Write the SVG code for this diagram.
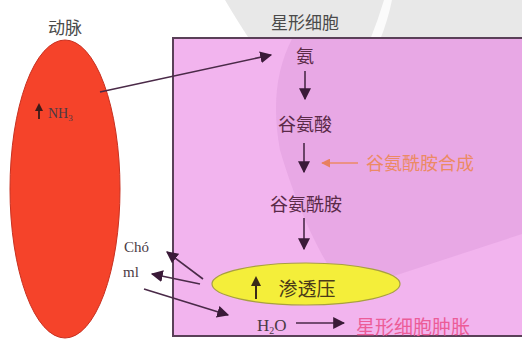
<svg xmlns="http://www.w3.org/2000/svg" width="522" height="340" viewBox="0 0 522 340">
<style>
.lbl{font-family:"Noto Sans CJK SC",sans-serif;font-size:17px;fill:#4a4a4a;text-anchor:middle}
.chain{font-family:"Noto Sans CJK SC",sans-serif;font-size:18px;fill:#5a2a48;text-anchor:middle}
.ser{font-family:"Liberation Serif",serif;fill:#4a3a44}
.ln{stroke:#4a2a48;stroke-width:1.6;fill:none}
</style>
<defs>
<marker id="ahB" viewBox="0 0 10 10" refX="9" refY="5" markerWidth="12" markerHeight="12" orient="auto" markerUnits="userSpaceOnUse">
<path d="M0,0 L10,5 L0,10 z" fill="#3a1a38"/>
</marker>
<marker id="ahO" viewBox="0 0 10 10" refX="9" refY="5" markerWidth="9" markerHeight="9" orient="auto" markerUnits="userSpaceOnUse">
<path d="M0,0 L10,5 L0,10 z" fill="#e88060"/>
</marker>
</defs>
<rect width="522" height="340" fill="#ffffff"/>
<path d="M225,0 Q238,22 250,40 L522,40 L522,0 Z" fill="#e8e8e8"/>
<path d="M384,0 Q378,20 370,40 L380,40 Q388,20 392,0 Z" fill="#ffffff" opacity="0.8"/>
<g id="cell">
<rect x="173" y="38" width="360" height="298" fill="#f2b4ee" stroke="#5a4058" stroke-width="2"/>
<path d="M292,39 L522,39 L522,234 L345,292 Q305,235 280,150 Q268,85 292,39 Z" fill="#dc98da" opacity="0.45"/>
<text class="lbl" x="305" y="29">星形细胞</text>
</g>
<g id="artery">
<ellipse cx="65" cy="189" rx="55" ry="149" fill="#f5432a" stroke="#c83020" stroke-width="1"/>
<text class="lbl" x="65" y="34">动脉</text>
<path d="M39,119 L39,109" stroke="#3a1a18" stroke-width="1.8"/>
<path d="M35,111 L39,103 L43,111 Z" fill="#3a1a18"/>
<text class="ser" x="48" y="118" font-size="14" fill="#3a1a18">NH<tspan font-size="9" dy="3">3</tspan></text>
</g>
<g id="n-ammonia"><text class="chain" x="305" y="63" font-size="17">氨</text></g>
<g id="n-glu"><text class="chain" x="305" y="131">谷氨酸</text></g>
<g id="n-gln"><text class="chain" x="306" y="211">谷氨酰胺</text></g>
<g id="n-synth"><text x="366" y="170" font-family="Noto Sans CJK SC,sans-serif" font-size="18" fill="#ec8a64">谷氨酰胺合成</text></g>
<g id="n-osm">
<ellipse cx="306" cy="284" rx="94" ry="21" fill="#f4ee3a" stroke="#a8a040" stroke-width="1.2"/>
<path d="M256,299 L256,284" stroke="#3a2a18" stroke-width="2"/>
<path d="M251,286 L256,276 L261,286 Z" fill="#3a2a18"/>
<text x="307" y="296" font-family="Noto Sans CJK SC,sans-serif" font-size="19" fill="#4a3a18" text-anchor="middle">渗透压</text>
</g>
<g id="n-h2o"><text class="ser" x="257" y="331" font-size="17">H<tspan font-size="10" dy="3">2</tspan><tspan dy="-3">O</tspan></text></g>
<g id="n-swell"><text x="356" y="334" font-family="Noto Sans CJK SC,sans-serif" font-size="19" fill="#ec5c98">星形细胞肿胀</text></g>
<g id="n-cho">
<text class="ser" x="124" y="252" font-size="15">Chó</text>
<text class="ser" x="123" y="277" font-size="15">ml</text>
</g>
<g id="connectors">
<line class="ln" x1="100" y1="92" x2="271" y2="55" marker-end="url(#ahB)"/>
<line class="ln" x1="305" y1="71" x2="305" y2="99" marker-end="url(#ahB)"/>
<line class="ln" x1="304" y1="143" x2="304" y2="172" marker-end="url(#ahB)"/>
<line class="ln" x1="304" y1="218" x2="304" y2="249" marker-end="url(#ahB)"/>
<line x1="358" y1="163" x2="322" y2="163" stroke="#ec8a64" stroke-width="1.4" marker-end="url(#ahO)"/>
<line class="ln" x1="203" y1="279" x2="167" y2="252" marker-end="url(#ahB)"/>
<line class="ln" x1="200" y1="284" x2="152" y2="274" marker-end="url(#ahB)"/>
<line class="ln" x1="144" y1="289" x2="228" y2="315" marker-end="url(#ahB)"/>
<line class="ln" x1="296" y1="323" x2="344" y2="323" marker-end="url(#ahB)"/>
</g>
</svg>
